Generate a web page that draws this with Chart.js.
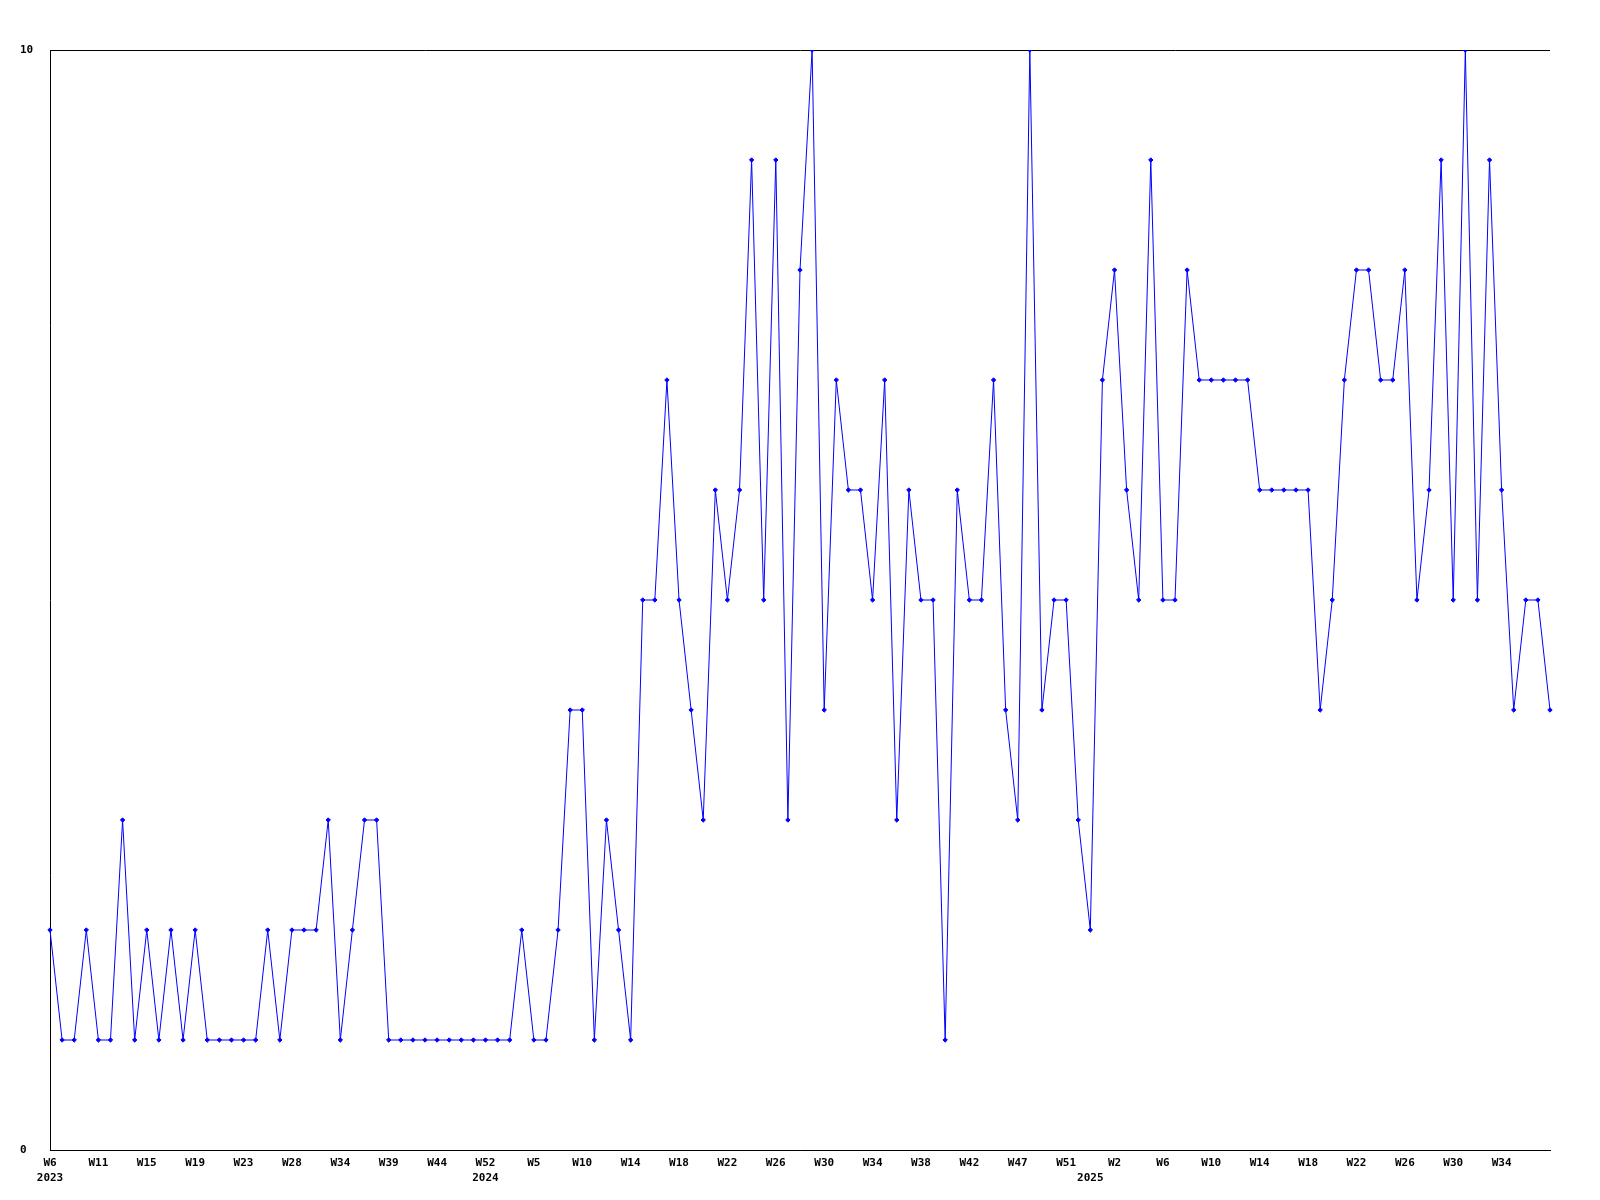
<!DOCTYPE html>
<html>
<head>
<meta charset="utf-8">
<title>Semanas</title>
<script src="https://cdn.jsdelivr.net/npm/chart.js@4.4.1/dist/chart.umd.min.js"></script>
<style>
    body { margin: 0; background: #FFF; }
    #box { width: 1600px; height: 1200px; }
</style>
</head>
<body>
<div id="box"><canvas id="myChart"></canvas></div>
<script>
// valores por semana (W6 2023 ate o fim de 2025)
var valores = [
    2, 1, 1, 2, 1, 1, 3, 1, 2, 1,
    2, 1, 2, 1, 1, 1, 1, 1, 2, 1,
    2, 2, 2, 3, 1, 2, 3, 3, 1, 1,
    1, 1, 1, 1, 1, 1, 1, 1, 1, 2,
    1, 1, 2, 4, 4, 1, 3, 2, 1, 5,
    5, 7, 5, 4, 3, 6, 5, 6, 9, 5,
    9, 3, 8, 10, 4, 7, 6, 6, 5, 7,
    3, 6, 5, 5, 1, 6, 5, 5, 7, 4,
    3, 10, 4, 5, 5, 3, 2, 7, 8, 6,
    5, 9, 5, 5, 8, 7, 7, 7, 7, 7,
    6, 6, 6, 6, 6, 4, 5, 7, 8, 8,
    7, 7, 8, 5, 6, 9, 5, 10, 5, 9,
    6, 4, 5, 5, 4
];

// rotulos das semanas que aparecem no eixo (um a cada 4 pontos)
var semanasEixo = ['W6', 'W11', 'W15', 'W19', 'W23', 'W28', 'W34', 'W39', 'W44', 'W52',
    'W5', 'W10', 'W14', 'W18', 'W22', 'W26', 'W30', 'W34', 'W38', 'W42', 'W47', 'W51',
    'W2', 'W6', 'W10', 'W14', 'W18', 'W22', 'W26', 'W30', 'W34'];

// anos e o ponto onde cada um comeca
var anos = ['2023', '2024', '2025'];
var inicioAno = [0, 36, 86];

var yTicks = [0, 10];

var passoRotulo = 4;

var labels = [];
for (var i = 0; i < valores.length; i++) {
    var semana = '';
    if (i % passoRotulo == 0 && semanasEixo[i / passoRotulo] !== undefined) {
        semana = semanasEixo[i / passoRotulo];
    }
    var pos = inicioAno.indexOf(i);
    var ano = pos >= 0 ? anos[pos] : '';
    labels.push([semana, ano]);
}

var fonte = {
    family: '"DejaVu Sans Mono", "Liberation Mono", monospace',
    size: 11,
    weight: 'bold',
    lineHeight: 15 / 11
};

const config = {
    type: 'line',
    data: {
        labels: labels,
        datasets: [{
            data: valores,
            borderColor: '#0000FF',
            backgroundColor: '#0000FF',
            borderWidth: 1,
            tension: 0,
            pointStyle: 'rectRot',
            pointRadius: 2.2,
            pointBorderWidth: 1,
            fill: false
        }]
    },
    options: {
        responsive: true,
        maintainAspectRatio: false,
        animation: false,
        layout: {
            padding: { left: 20, top: 50, right: 50, bottom: 0 }
        },
        scales: {
            x: {
                type: 'category',
                offset: false,
                grid: { display: false },
                border: { display: true, color: '#000', width: 1 },
                afterFit: function (scale) { scale.height = 50; },
                ticks: {
                    autoSkip: false,
                    maxRotation: 0,
                    minRotation: 0,
                    padding: -2,
                    color: '#000',
                    font: fonte
                }
            },
            y: {
                min: 0,
                max: 10,
                afterFit: function (scale) { scale.width = 30; },
                afterBuildTicks: function (scale) {
                    scale.ticks = yTicks.map(function (v) { return { value: v }; });
                },
                grid: {
                    display: true,
                    color: '#000',
                    lineWidth: 1,
                    drawTicks: false
                },
                border: { display: true, color: '#000', width: 1 },
                ticks: {
                    crossAlign: 'far',
                    padding: 0,
                    color: '#000',
                    font: fonte
                }
            }
        },
        plugins: {
            legend: { display: false },
            tooltip: { enabled: false },
            title: { display: false }
        }
    }
};

let myChart = new Chart(
    document.getElementById('myChart'),
    config
);
</script>
</body>
</html>
